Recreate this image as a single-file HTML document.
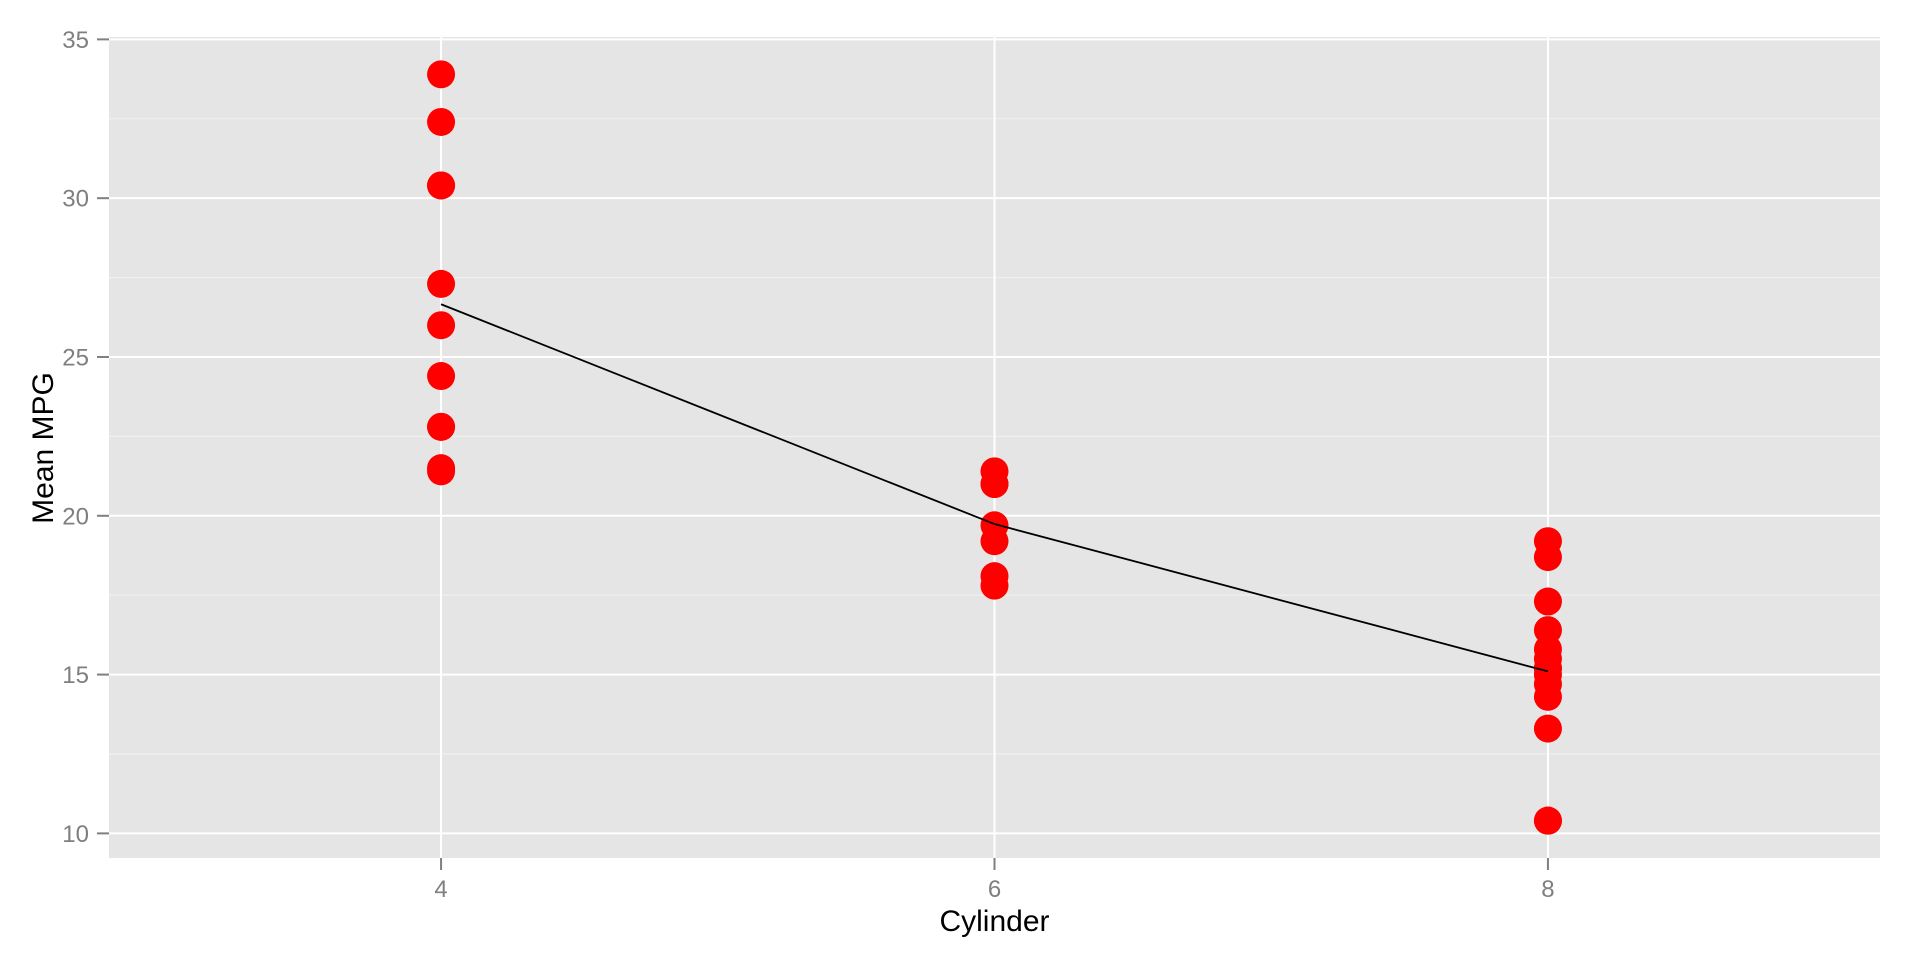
<!DOCTYPE html>
<html><head><meta charset="utf-8"><style>
html,body{margin:0;padding:0;background:#fff;}
svg{display:block;font-family:"Liberation Sans",Arial,sans-serif;}
</style></head><body>
<svg id="chart" width="1920" height="960" viewBox="0 0 1920 960" xmlns="http://www.w3.org/2000/svg">
<rect x="109" y="37" width="1771" height="821" fill="#e5e5e5"/>
<g id="grid"></g>
<g id="points"></g>
<g id="line"></g>
<g id="axes"></g>
<text x="994.5" y="931" font-size="30" text-anchor="middle" fill="#000">Cylinder</text>
<text transform="translate(53,448) rotate(-90)" font-size="30" text-anchor="middle" fill="#000">Mean MPG</text>
</svg>
<script>
const cyl4 = [22.8,24.4,22.8,32.4,30.4,33.9,21.5,27.3,26.0,30.4,21.4];
const cyl6 = [21.0,21.0,21.4,18.1,19.2,17.8,19.7];
const cyl8 = [18.7,14.3,16.4,17.3,15.2,10.4,10.4,14.7,15.5,15.2,13.3,19.2,15.8,15.0];
const categories = [4,6,8];
const meanMpg = [26.66,19.74,15.10];
const xTicks = [4,6,8];
const yTicks = [10,15,20,25,30,35];
const yMinor = [12.5,17.5,22.5,27.5,32.5];
const xMinor = [3,5,7,9];

const NS="http://www.w3.org/2000/svg";
const PL=109, PR=1880, PT=37, PB=858;
const XMIN=2.8, XMAX=9.2, YMIN=9.225, YMAX=35.075;
function xs(v){return PL+(v-XMIN)/(XMAX-XMIN)*(PR-PL);}
function ys(v){return PB-(v-YMIN)/(YMAX-YMIN)*(PB-PT);}
function mk(tag,attrs,parent){const e=document.createElementNS(NS,tag);for(const k in attrs)e.setAttribute(k,attrs[k]);parent.appendChild(e);return e;}

const grid=document.getElementById('grid');
yMinor.forEach(v=>{const l=mk('line',{x1:PL,x2:PR,y1:ys(v),y2:ys(v),stroke:'#f2f2f2','stroke-width':1},grid);

});
yTicks.forEach(v=>{const l=mk('line',{x1:PL,x2:PR,y1:ys(v),y2:ys(v),stroke:'#fff','stroke-width':2},grid);

});
xTicks.forEach(v=>{const l=mk('line',{x1:xs(v),x2:xs(v),y1:PT,y2:PB,stroke:'#fff','stroke-width':2},grid);

});

const pts=document.getElementById('points');
[cyl4,cyl6,cyl8].forEach((arr,i)=>{arr.forEach(v=>{
const c=mk('circle',{cx:xs(categories[i]),cy:ys(v),r:14,fill:'#ff0000'},pts);

});});

const lg=document.getElementById('line');
const pl=mk('polyline',{points:categories.map((c,i)=>xs(c)+','+ys(meanMpg[i])).join(' '),fill:'none',stroke:'#000','stroke-width':1.8},lg);



const ax=document.getElementById('axes');
yTicks.forEach(v=>{
const t=mk('line',{x1:97,x2:PL,y1:ys(v),y2:ys(v),stroke:'#7f7f7f','stroke-width':2},ax);


const tx=mk('text',{x:89,y:ys(v)+8.5,'font-size':24,'text-anchor':'end',fill:'#7f7f7f'},ax);
tx.textContent=v;

});
xTicks.forEach(v=>{
const t=mk('line',{x1:xs(v),x2:xs(v),y1:PB,y2:PB+12,stroke:'#7f7f7f','stroke-width':2},ax);


const tx=mk('text',{x:xs(v),y:897,'font-size':24,'text-anchor':'middle',fill:'#7f7f7f'},ax);
tx.textContent=v;

});
</script>
</body></html>
